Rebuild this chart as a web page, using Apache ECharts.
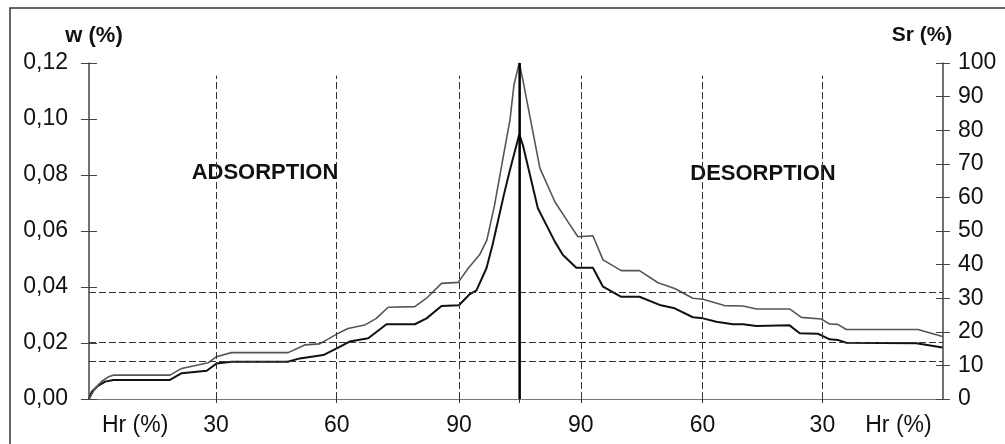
<!DOCTYPE html>
<html>
<head>
<meta charset="utf-8">
<script src="https://cdn.jsdelivr.net/npm/echarts@6/dist/echarts.min.js"></script>
<style>html,body{margin:0;padding:0;background:#fff}#c{width:1005px;height:444px}</style>
</head>
<body>
<div id="c"></div>
<script>
// Position along the adsorption/desorption path (abstract units), lower curve w (%)
const lowerX = [0,0.7,2.3,4.0,6.0,20.0,22.9,29.1,31.5,35.2,49.1,52.1,57.9,61.2,64.4,69.0,73.5,80.5,83.4,87.1,91.4,94.1,95.7,98.2,99.7,101.1,102.5,104.0,106.3,107.2,110.9,115.1,117.1,120.4,124.5,127.0,131.5,136.0,141.0,144.7,149.2,151.7,155.0,159.1,161.6,164.9,173.1,175.6,180.1,183.0,185.0,187.1,204.4,210.9];
const lowerW = [0,0.0026,0.0048,0.0062,0.0068,0.0068,0.0092,0.0101,0.0127,0.0133,0.0133,0.0145,0.0157,0.0181,0.0205,0.0217,0.0267,0.0267,0.0288,0.0332,0.0335,0.0375,0.0387,0.0467,0.0550,0.0639,0.0729,0.0818,0.0945,0.0907,0.0681,0.0562,0.0514,0.0469,0.0469,0.0401,0.0365,0.0365,0.0336,0.0324,0.0292,0.0288,0.0276,0.0267,0.0267,0.0261,0.0263,0.0235,0.0233,0.0213,0.0211,0.0201,0.0199,0.0184];
// upper curve Sr (%)
const upperX = [0,1.5,3.1,4.8,6.0,20.0,22.9,29.5,31.5,35.2,49.2,53.3,57.0,61.2,64.0,68.1,71.0,73.9,80.5,83.4,87.1,91.2,93.7,96.5,98.3,100.2,102.2,104.0,105.0,106.3,107.2,111.4,115.1,118.3,120.8,124.5,127.0,131.5,136.0,140.6,144.7,149.2,151.7,157.0,161.6,164.9,173.1,176.0,180.9,183.0,185.0,187.1,204.8,210.9];
const upperSr = [0,3.2,5.2,6.6,7.1,7.1,9.1,10.8,12.6,13.8,13.8,16.1,16.4,19.3,21.0,22.0,24.0,27.3,27.5,30.0,34.4,34.7,38.9,42.9,47.3,57.7,71.1,83.0,93.5,100,94.9,68.7,58.7,52.8,48.3,48.6,41.4,38.2,38.2,34.6,32.9,30.0,29.7,27.8,27.7,26.8,26.8,24.3,23.8,22.3,22.2,20.7,20.7,18.6];
// Hr (%) marks along path
const hrLinePos = [31.4,61.2,91.4,121.5,151.6,181.2];
const peakPos = 106.4;
const xLabelPos = [11.4,31.4,61.2,91.4,121.5,151.6,181.2,200];
const xLabelText = ['Hr (%)','30','60','90','90','60','30','Hr (%)'];
const hLines = [0.038,0.0203,0.0136];
const vLineTop = 0.1155;
const xMin = 0, xMax = 211;

const font = "'Liberation Sans', Arial, sans-serif";
const chart = echarts.init(document.getElementById('c'));
const lowerData = lowerX.map((x,i)=>[x,lowerW[i]]);
const upperData = upperX.map((x,i)=>[x,upperSr[i]]);
const dash = [7,3];

const markLines = [];
hrLinePos.forEach(p=>markLines.push([{coord:[p,0]},{coord:[p,vLineTop]}]));
hLines.forEach(v=>markLines.push([{coord:[xMin,v]},{coord:[xMax,v]}]));

chart.setOption({
  animation:false,
  grid:{left:89,right:62,top:63,bottom:45},
  xAxis:{type:'value',min:xMin,max:xMax,
    axisLine:{lineStyle:{color:'#777',width:1.2}},
    axisTick:{show:true,length:4,customValues:hrLinePos.concat([peakPos]),lineStyle:{color:'#333'}},
    splitLine:{show:false},
    axisLabel:{customValues:xLabelPos,margin:15,fontFamily:font,fontSize:23,color:'#111',hideOverlap:false,
      formatter:(v)=>{const i=xLabelPos.findIndex(p=>Math.abs(p-v)<0.01);return i>=0?xLabelText[i]:'';}}
  },
  yAxis:[
    {type:'value',min:0,max:0.12,interval:0.02,position:'left',
      axisLine:{show:true,lineStyle:{color:'#444',width:1.5}},
      axisTick:{show:true,length:8,lineStyle:{color:'#444'}},
      splitLine:{show:false},
      axisLabel:{margin:21,fontFamily:font,fontSize:23,color:'#111',formatter:v=>v.toFixed(2).replace('.',',')}},
    {type:'value',min:0,max:100,interval:10,position:'right',
      axisLine:{show:true,lineStyle:{color:'#444',width:1.5}},
      axisTick:{show:true,length:7,lineStyle:{color:'#444'}},
      splitLine:{show:false},
      axisLabel:{margin:15,fontFamily:font,fontSize:23,color:'#111'}},
    {type:'value',min:0,max:0.12,interval:0.02,position:'left',
      axisLine:{show:false},axisTick:{show:true,inside:true,length:8,lineStyle:{color:'#444'}},
      axisLabel:{show:false},splitLine:{show:false}},
    {type:'value',min:0,max:100,interval:10,position:'right',
      axisLine:{show:false},axisTick:{show:true,inside:true,length:7,lineStyle:{color:'#444'}},
      axisLabel:{show:false},splitLine:{show:false}}
  ],
  series:[
    {type:'line',name:'w',yAxisIndex:0,data:lowerData,showSymbol:false,
      lineStyle:{color:'#111',width:2},
      markLine:{silent:true,symbol:'none',label:{show:false},
        lineStyle:{color:'#333',width:1,type:dash},data:markLines}},
    {type:'line',name:'Sr',yAxisIndex:1,data:upperData,showSymbol:false,
      lineStyle:{color:'#555',width:1.6}},
    {type:'line',name:'peak',yAxisIndex:0,data:[[peakPos,0],[peakPos,0.12]],showSymbol:false,
      lineStyle:{color:'#000',width:2.5},z:5}
  ],
  graphic:[
    {type:'rect',shape:{x:10,y:8,width:1010,height:460},style:{fill:'none',stroke:'#333',lineWidth:1.5},silent:true},
    {type:'text',x:94,y:36,style:{text:'w (%)',font:"bold 22px "+font,fill:'#111',textAlign:'center',textVerticalAlign:'middle'}},
    {type:'text',x:922,y:35,style:{text:'Sr (%)',font:"bold 21px "+font,fill:'#111',textAlign:'center',textVerticalAlign:'middle'}},
    {type:'text',x:265,y:173,style:{text:'ADSORPTION',font:"bold 22px "+font,fill:'#111',textAlign:'center',textVerticalAlign:'middle'}},
    {type:'text',x:763,y:174,style:{text:'DESORPTION',font:"bold 22px "+font,fill:'#111',textAlign:'center',textVerticalAlign:'middle'}}
  ]
});
</script>
</body>
</html>
